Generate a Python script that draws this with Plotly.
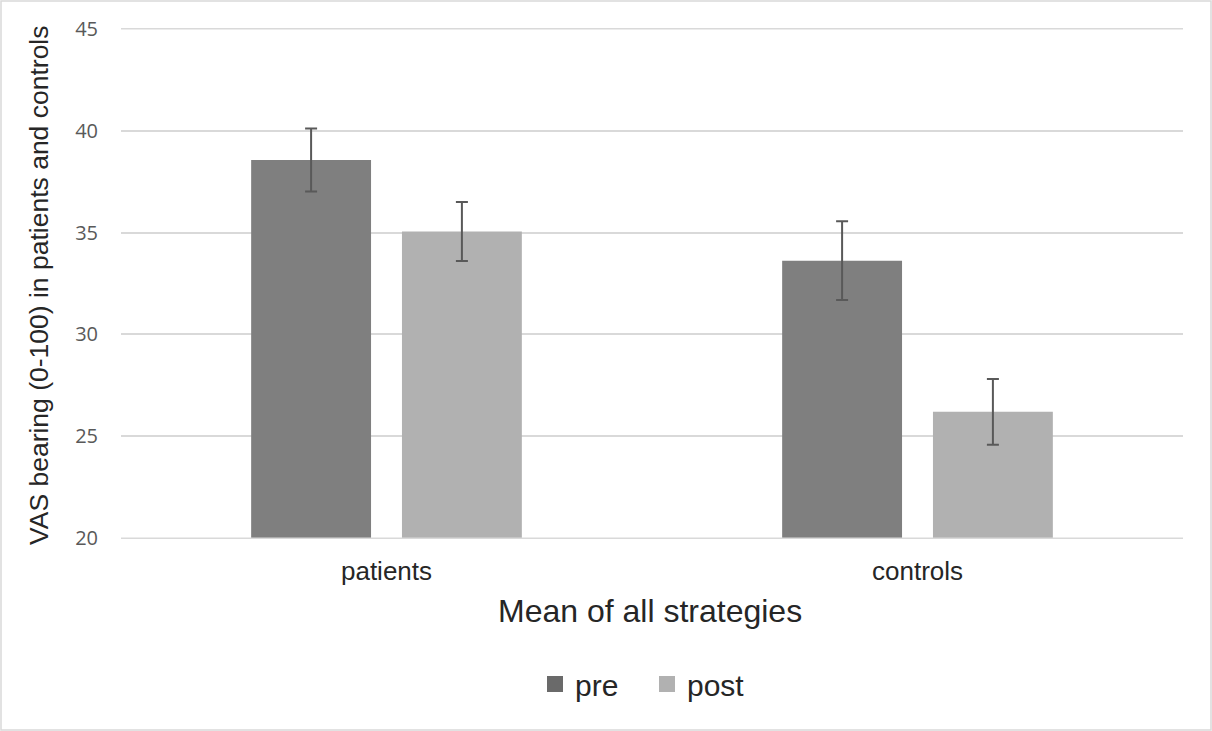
import plotly.graph_objects as go

categories = ["patients", "controls"]
pre_values = [38.56, 33.62]
pre_errors = [1.55, 1.93]
post_values = [35.05, 26.20]
post_errors = [1.45, 1.61]
series_names = ["pre", "post"]
y_ticks = [20, 25, 30, 35, 40, 45]
y_range = [19.96, 45.04]

PRE_COLOR = "#7F7F7F"
POST_COLOR = "#B1B1B1"
ERR_COLOR = "#595959"
GRID_COLOR = "#D9D9D9"

W, H = 1212, 731
L, R, T, B = 121, 29, 28, 192
pw, ph = W - L - R, H - T - B

def px_x(x):
    return (x - L) / pw

def px_y(y):
    return (H - B - y) / ph

fig = go.Figure()
for name, vals, errs, col in [
    (series_names[0], pre_values, pre_errors, PRE_COLOR),
    (series_names[1], post_values, post_errors, POST_COLOR),
]:
    fig.add_trace(go.Bar(
        x=categories, y=vals, name=name, marker=dict(color=col, line=dict(width=0)),
        error_y=dict(type="data", array=errs, visible=True, color=ERR_COLOR, thickness=2, width=6),
        showlegend=False,
    ))
    fig.add_trace(go.Scatter(
        x=[None], y=[None], mode="markers", name=name,
        marker=dict(symbol="square", size=16, color=col if name == "post" else "#6A6A6A"),
        showlegend=True,
    ))

fig.update_layout(
    width=W, height=H,
    margin=dict(l=L, r=R, t=T, b=B, autoexpand=False),
    paper_bgcolor="white", plot_bgcolor="white",
    barmode="group", bargap=0.432, bargroupgap=0.205,
    showlegend=True,
    legend=dict(orientation="h", x=px_x(647), y=px_y(684), xanchor="center", yanchor="middle",
                font=dict(family="Liberation Sans, Arial", size=30, color="#262626"),
                itemwidth=30, entrywidth=67, tracegroupgap=0, bgcolor="rgba(0,0,0,0)"),
    xaxis=dict(showgrid=False, showline=False, zeroline=False, ticks="",
               tickfont=dict(family="Liberation Sans, Arial", size=26, color="#262626"),
               ticklabelstandoff=14),
    yaxis=dict(range=y_range, tickvals=y_ticks, showgrid=True, gridcolor=GRID_COLOR, gridwidth=1.5,
               showline=False, zeroline=False, ticks="",
               tickfont=dict(family="Open Sans", size=20, color="#595959"),
               ticklabelstandoff=22),
    annotations=[
        dict(text="Mean of all strategies", xref="paper", yref="paper", x=px_x(650), y=px_y(611),
             xanchor="center", yanchor="middle", showarrow=False,
             font=dict(family="Liberation Sans, Arial", size=32, color="#262626")),
        dict(text="VAS bearing (0-100) in patients and controls", xref="paper", yref="paper",
             x=px_x(39), y=px_y(285), xanchor="center", yanchor="middle", textangle=-90,
             showarrow=False, font=dict(family="Liberation Sans, Arial", size=26.5, color="#262626")),
    ],
    shapes=[
        dict(type="rect", xref="paper", yref="paper",
             x0=px_x(1), x1=px_x(1211), y0=px_y(730), y1=px_y(1),
             line=dict(color=GRID_COLOR, width=1.5), fillcolor="rgba(0,0,0,0)", layer="below"),
        dict(type="line", xref="paper", yref="y", x0=0, x1=1, y0=y_ticks[0], y1=y_ticks[0],
             line=dict(color=GRID_COLOR, width=1.5), layer="above"),
        dict(type="line", xref="paper", yref="y", x0=0, x1=1, y0=y_ticks[-1], y1=y_ticks[-1],
             line=dict(color=GRID_COLOR, width=1.5), layer="below"),
    ],
)

fig.write_html("out.html", config={"displayModeBar": False},
               post_script="document.body.style.margin='0';document.body.style.padding='0';")
